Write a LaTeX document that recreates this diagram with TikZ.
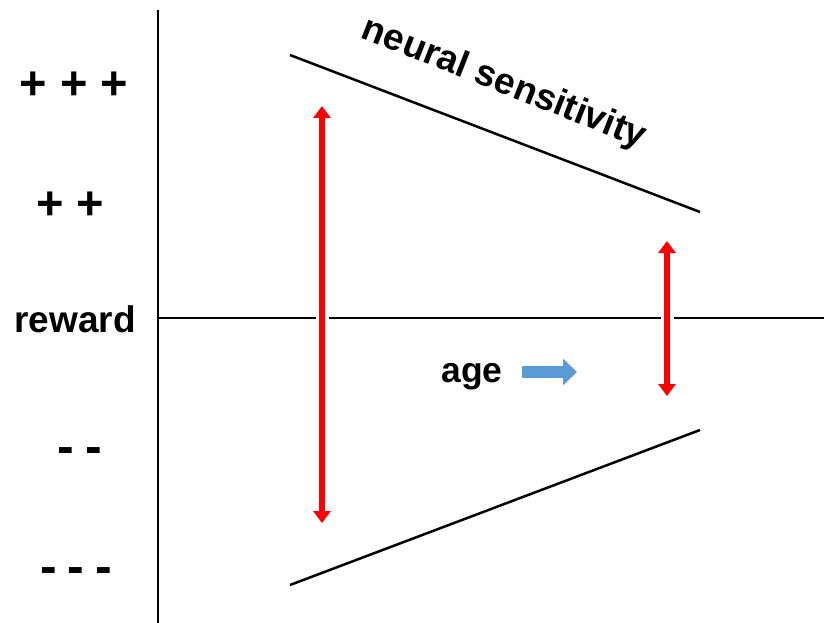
\documentclass[tikz,border=0pt]{standalone}
\usepackage{fontspec}
\setmainfont{Liberation Sans}
\usetikzlibrary{arrows.meta}
\definecolor{arrowred}{RGB}{255,0,0}
\definecolor{ageblue}{RGB}{91,155,213}
\begin{document}
\begin{tikzpicture}[x=1pt,y=-1pt,
  lbl/.style={font=\fontsize{37}{37}\selectfont\bfseries, inner sep=0pt, anchor=base},
  plbl/.style={font=\fontsize{47}{47}\selectfont\bfseries, inner sep=0pt, anchor=base},
  mlbl/.style={font=\fontsize{50}{50}\selectfont\bfseries, inner sep=0pt, anchor=base},
  axis/.style={line width=2.5pt, black},
  bound/.style={line width=2.5pt, black},
  redarrow/.style={line width=6.5pt, arrowred,
    {Triangle[width=17pt,length=12pt]}-{Triangle[width=17pt,length=12pt]}},
  gapline/.style={line width=13pt, white},
  bluearrow/.style={line width=11.5pt, ageblue, -{Triangle[width=26pt,length=14pt]}}]
\useasboundingbox (0,0) rectangle (824,623);
% axes
\coordinate (vtop) at (158,10);
\coordinate (vbot) at (158,623);
\coordinate (hl) at (158,318);
\coordinate (hr) at (824,318);
\draw[axis] (vtop) -- (vbot);
\draw[axis] (hl) -- (hr);
% boundary lines
\coordinate (ua) at (290,55);
\coordinate (ub) at (700,212);
\coordinate (la) at (290,585);
\coordinate (lb) at (700,430);
\draw[bound] (ua) -- (ub);
\draw[bound] (la) -- (lb);
% gaps in horizontal axis
\coordinate (g1a) at (322,308);
\coordinate (g1b) at (322,328);
\coordinate (g2a) at (667,308);
\coordinate (g2b) at (667,328);
\draw[gapline] (g1a) -- (g1b);
\draw[gapline] (g2a) -- (g2b);
% red arrows
\coordinate (r1t) at (322,106);
\coordinate (r1b) at (322,523);
\coordinate (r2t) at (667,241);
\coordinate (r2b) at (667,396);
\draw[redarrow] (r1t) -- (r1b);
\draw[redarrow] (r2t) -- (r2b);
% age arrow
\coordinate (b1) at (522,372);
\coordinate (b2) at (577,372);
\draw[bluearrow] (b1) -- (b2);
% labels
\node[plbl] (ppp) at (74,100) {+ + +};
\node[plbl] (pp) at (70,219) {+ +};
\node[lbl] (rew) at (75,332) {reward};
\node[mlbl] (mm) at (80,463) {-\hspace{11pt}-};
\node[mlbl] (mmm) at (76,583) {-\hspace{11pt}-\hspace{11pt}-};
\node[lbl, font=\fontsize{35.5}{35.5}\selectfont\bfseries] (age) at (472,382) {age};
\node[lbl, anchor=center, rotate=-21.5] (ns) at (504,84) {neural sensitivity};
\end{tikzpicture}
\end{document}
